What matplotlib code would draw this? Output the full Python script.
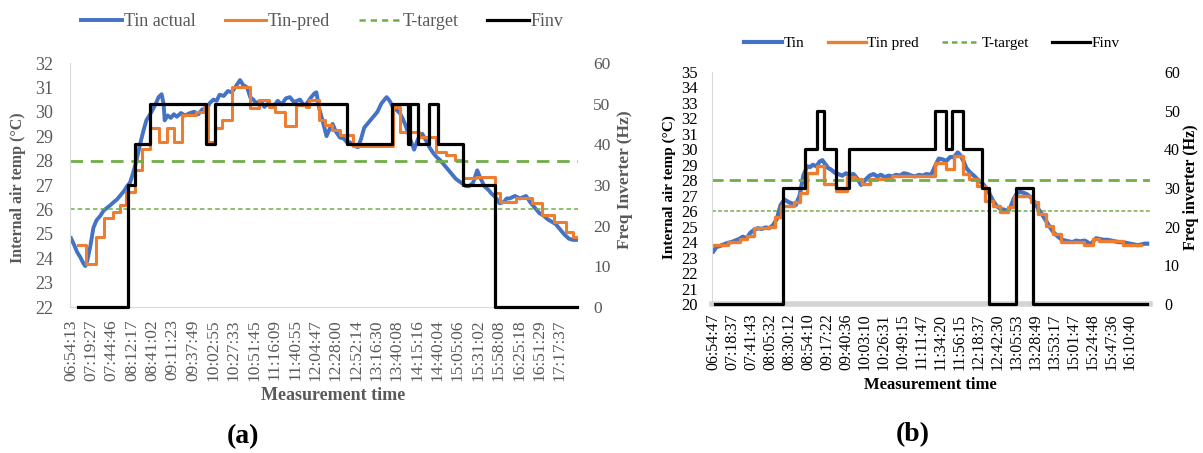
import matplotlib
matplotlib.use('Agg')
import matplotlib.pyplot as plt
from matplotlib.lines import Line2D

plt.rcParams['font.family'] = ['Liberation Serif', 'DejaVu Serif']

# ---------------- (a) data ----------------
a_times = ['06:54:13', '07:19:27', '07:44:46', '08:12:17', '08:41:02', '09:11:23',
           '09:37:49', '10:02:55', '10:27:33', '10:51:45', '11:16:09', '11:40:55',
           '12:04:47', '12:28:00', '12:52:14', '13:16:30', '13:40:08', '14:15:16',
           '14:40:04', '15:05:06', '15:31:02', '15:58:08', '16:25:18', '16:51:29',
           '17:17:37']
a_tick_idx = list(range(0, 481, 20))

a_tin_idx = [0, 3, 6, 9, 12, 14, 16, 19, 22, 25, 29, 32, 35, 38, 42, 45, 48, 52, 55, 58,
             61, 64, 68, 71, 74, 77, 81, 84, 86, 89, 91, 92, 95, 98, 101, 104, 108, 112,
             117, 121, 125, 129, 133, 136, 140, 143, 146, 150, 154, 158, 162, 166, 169,
             173, 176, 179, 182, 186, 190, 194, 199, 203, 207, 211, 215, 219, 225, 228,
             231, 235, 239, 241, 244, 247, 251, 254, 257, 260, 264, 268, 271, 274, 278,
             282, 285, 288, 292, 297, 301, 305, 310, 313, 316, 319, 323, 326, 329, 333,
             337, 341, 345, 349, 352, 356, 359, 363, 368, 373, 378, 383, 388, 391, 395,
             399, 402, 406, 410, 413, 417, 421, 425, 428, 431, 436, 441, 447, 451, 456,
             460, 464, 468, 472, 476, 480, 484, 489, 493, 497]
a_tin = [24.82, 24.55, 24.25, 24.05, 23.8, 23.68, 23.9, 24.5, 25.25, 25.55, 25.75, 25.95,
         26.05, 26.15, 26.3, 26.4, 26.55, 26.75, 26.95, 27.1, 27.5, 27.95, 28.7, 29.2,
         29.65, 29.85, 30.15, 30.4, 30.6, 30.72, 30.3, 29.65, 29.85, 29.75, 29.9, 29.8,
         29.95, 29.85, 29.95, 30.0, 29.9, 30.1, 30.05, 30.35, 30.5, 30.45, 30.7, 30.65,
         30.85, 30.8, 31.05, 31.3, 31.1, 31.0, 30.6, 30.5, 30.35, 30.45, 30.2, 30.35,
         30.2, 30.45, 30.3, 30.55, 30.6, 30.4, 30.5, 30.3, 30.3, 30.55, 30.75, 30.8,
         30.1, 29.65, 29.0, 29.3, 29.5, 29.2, 28.95, 28.9, 28.75, 28.75, 28.6, 28.55,
         28.9, 29.35, 29.55, 29.8, 30.0, 30.35, 30.6, 30.45, 30.2, 30.1, 29.95, 29.7,
         29.4, 28.9, 28.45, 28.9, 29.1, 28.8, 28.55, 28.3, 28.15, 28.0, 27.75, 27.5,
         27.25, 27.1, 26.95, 26.95, 27.1, 27.6, 27.3, 26.95, 26.8, 26.65, 26.5, 26.25,
         26.3, 26.45, 26.45, 26.55, 26.45, 26.55, 26.3, 26.05, 25.85, 25.75, 25.6, 25.5,
         25.4, 25.2, 25.0, 24.8, 24.75, 24.75]

a_pred_idx = [7, 15, 25, 32, 41, 48, 54, 63, 70, 78, 86, 94, 101, 109, 123, 131, 135,
              141, 148, 158, 176, 185, 194, 200, 210, 221, 231, 234, 244, 249, 256, 264,
              277, 316, 323, 342, 359, 368, 377, 385, 398, 416, 421, 437, 453, 463, 474,
              486, 493, 497]
a_pred = [24.54, 23.76, 24.88, 25.63, 25.9, 26.18, 26.73, 27.61, 28.46, 29.32, 28.77,
          29.32, 28.77, 29.87, 29.98, 30.2, 28.77, 29.32, 29.66, 31.0, 30.14, 30.48, 30.21,
          29.98, 29.4, 30.28, 30.21, 30.48, 29.66, 29.46, 29.25, 29.05, 28.6, 30.21, 29.19,
          28.98, 28.36, 28.22, 28.02, 27.27, 27.34, 26.66, 26.32, 26.45, 26.25, 25.77,
          25.48, 25.07, 24.87, 24.87]

a_finv_idx = [7, 56, 63, 78, 133, 141, 271, 315, 331, 333, 341, 352, 360, 385, 416, 497]
a_finv = [0, 30, 40, 50, 40, 50, 40, 50, 40, 50, 40, 50, 40, 30, 0, 0]

a_targets = [28, 26]

# ---------------- (b) data ----------------
b_times = ['06:54:47', '07:18:37', '07:41:43', '08:05:32', '08:30:12', '08:54:10',
           '09:17:22', '09:40:36', '10:03:10', '10:26:31', '10:49:15', '11:11:47',
           '11:34:20', '11:56:15', '12:18:37', '12:42:30', '13:05:53', '13:28:49',
           '13:53:17', '15:01:47', '15:24:48', '15:47:36', '16:10:40']
b_tick_idx = list(range(0, 441, 20))

b_tin_idx = [0, 3, 7, 11, 15, 19, 23, 27, 31, 35, 39, 43, 47, 51, 55, 59, 63, 67, 71, 75,
             79, 83, 87, 91, 95, 99, 102, 105, 109, 112, 115, 118, 121, 124, 128, 132,
             136, 140, 144, 148, 152, 156, 160, 165, 169, 173, 177, 181, 185, 189, 193,
             197, 201, 205, 209, 213, 217, 221, 225, 230, 234, 238, 242, 246, 250, 254,
             258, 261, 264, 267, 271, 275, 279, 283, 287, 291, 295, 299, 303, 307, 311,
             314, 317, 321, 324, 327, 331, 335, 339, 343, 347, 351, 355, 359, 363, 367,
             371, 375, 379, 383, 387, 392, 395, 398, 401, 404, 408, 412, 416, 420, 424,
             428, 432, 436, 440, 444, 448, 452, 455, 458]
b_tin = [23.4, 23.68, 23.75, 23.85, 23.95, 24.0, 24.1, 24.2, 24.35, 24.25, 24.6, 24.8,
         24.9, 24.85, 24.95, 24.9, 25.1, 25.5, 26.4, 26.75, 26.6, 26.5, 26.4, 27.0, 28.3,
         28.9, 28.85, 29.0, 28.9, 29.2, 29.3, 29.05, 28.8, 28.7, 28.5, 28.4, 28.3, 28.45,
         28.35, 28.4, 28.1, 27.7, 28.0, 28.3, 28.4, 28.25, 28.35, 28.2, 28.3, 28.25, 28.35,
         28.3, 28.45, 28.4, 28.3, 28.25, 28.35, 28.3, 28.4, 28.35, 28.9, 29.4, 29.35,
         29.25, 29.5, 29.5, 29.8, 29.6, 29.25, 28.8, 28.5, 28.3, 28.05, 27.85, 27.6, 27.2,
         26.7, 26.35, 26.15, 26.1, 26.0, 26.3, 26.8, 27.2, 27.25, 27.2, 27.1, 26.9, 26.6,
         26.15, 25.8, 25.4, 25.0, 24.65, 24.4, 24.2, 24.1, 24.05, 24.0, 24.1, 24.05, 24.1,
         24.0, 23.85, 24.05, 24.25, 24.2, 24.15, 24.15, 24.1, 24.05, 24.0, 24.0, 23.95,
         23.9, 23.85, 23.8, 23.85, 23.9, 23.9]

b_pred_idx = [0, 15, 28, 35, 43, 59, 65, 71, 85, 91, 99, 109, 117, 129, 141, 149, 157,
              165, 189, 234, 246, 254, 264, 270, 278, 287, 295, 303, 311, 317, 335, 343,
              351, 359, 367, 391, 401, 407, 432, 452]
b_pred = [23.8, 24.0, 24.2, 24.4, 24.9, 25.0, 25.6, 26.35, 26.6, 27.2, 28.5, 28.9, 27.75,
          27.33, 28.2, 28.07, 27.75, 28.07, 28.29, 29.14, 28.7, 29.57, 28.4, 28.07, 27.64,
          26.68, 26.36, 25.93, 26.25, 27.0, 26.57, 25.82, 25.07, 24.54, 24.0, 23.8, 24.2,
          24.1, 23.8, 23.8]

b_finv_idx = [2, 73, 97, 109, 117, 129, 143, 234, 246, 252, 264, 284, 291, 319, 337, 458]
b_finv = [0, 30, 40, 50, 40, 30, 40, 50, 40, 50, 40, 30, 0, 30, 0, 0]

b_targets = [28, 26]

BLUE = '#4472C4'
ORANGE = '#ED7D31'
GREEN = '#70AD47'
GRAY = '#595959'
W, H = 1203, 453

fig = plt.figure(figsize=(W / 100, H / 100), dpi=100)

# ================= chart (a) =================
axA = fig.add_axes([70 / W, 1 - 307 / H, 508 / W, 244 / H])
axA.plot(a_tin_idx, a_tin, color=BLUE, lw=2.8, label='Tin actual', solid_joinstyle='round')
axA.plot(a_pred_idx, a_pred, color=ORANGE, lw=2.2, drawstyle='steps-post', label='Tin-pred')
axA.axhline(a_targets[0], color=GREEN, lw=2.0, dashes=(4.5, 2.8), label='T-target')
axA.axhline(a_targets[1], color=GREEN, lw=1.1, dashes=(3, 2))
axA.set_xlim(-1, 498)
axA.set_ylim(22, 32)
axA.set_yticks(range(22, 33))
axA.set_xticks(a_tick_idx)
axA.set_xticklabels(a_times, rotation=90)
axA.tick_params(axis='x', length=0, pad=9, labelsize=12.5, labelcolor=GRAY)
axA.tick_params(axis='y', length=0, pad=12, labelsize=13, labelcolor=GRAY)
for s in ['top', 'right']:
    axA.spines[s].set_visible(False)
axA.spines['left'].set_color('#d9d9d9')
axA.spines['bottom'].set_color('#d9d9d9')

axA2 = axA.twinx()
axA2.plot(a_finv_idx, a_finv, color='black', lw=2.3, drawstyle='steps-post',
          label='Finv', clip_on=False)
axA2.set_ylim(0, 60)
axA2.set_yticks(range(0, 61, 10))
axA2.tick_params(axis='y', length=0, pad=11, labelsize=12.5, labelcolor=GRAY)
for s in axA2.spines.values():
    s.set_visible(False)

hA = [Line2D([], [], color=BLUE, lw=2.8), Line2D([], [], color=ORANGE, lw=2.2),
      Line2D([], [], color=GREEN, lw=1.8, dashes=(2.5, 2)), Line2D([], [], color='black', lw=2.3)]
legA = fig.legend(hA, ['Tin actual', 'Tin-pred', 'T-target', 'Finv'], loc='center',
                  bbox_to_anchor=(322 / W, 1 - 22 / H), ncol=4, frameon=False,
                  fontsize=13, handlelength=2.3, handletextpad=0.1, columnspacing=1.6)
for t in legA.get_texts():
    t.set_color(GRAY)

fig.text(18 / W, 1 - 188 / H, 'Internal air temp (°C)', rotation=90, ha='center',
         va='center', fontsize=11.5, fontweight='bold', color=GRAY)
fig.text(625 / W, 1 - 180 / H, 'Freq Inverter (Hz)', rotation=90, ha='center',
         va='center', fontsize=12.5, fontweight='bold', color=GRAY)
fig.text(333 / W, 1 - 395 / H, 'Measurement time', ha='center', va='center',
         fontsize=13, fontweight='bold', color=GRAY)
fig.text(243 / W, 1 - 437 / H, '(a)', ha='center', va='center', fontsize=20,
         fontweight='bold', color='black')

# ================= chart (b) =================
axB = fig.add_axes([711.5 / W, 1 - 304 / H, 438.5 / W, 232 / H])
axB.plot(b_tin_idx, b_tin, color=BLUE, lw=3.0, label='Tin', solid_joinstyle='round')
axB.plot(b_pred_idx, b_pred, color=ORANGE, lw=2.4, drawstyle='steps-post', label='Tin pred')
axB.axhline(b_targets[0], color=GREEN, lw=2.0, dashes=(4, 2.2), label='T-target')
axB.axhline(b_targets[1], color=GREEN, lw=1.1, dashes=(2.5, 1.5))
axB.set_xlim(-2, 461)
axB.set_ylim(20, 35)
axB.set_yticks(range(20, 36))
axB.set_xticks(b_tick_idx)
axB.set_xticklabels(b_times, rotation=90)
axB.tick_params(axis='x', length=0, pad=7, labelsize=11.5, labelcolor='black')
axB.tick_params(axis='y', length=0, pad=10, labelsize=12, labelcolor='black')
for s in ['top', 'right']:
    axB.spines[s].set_visible(False)
axB.spines['left'].set_color('#d9d9d9')
axB.spines['bottom'].set_color('#d4d4d4')
axB.spines['bottom'].set_linewidth(4)

axB2 = axB.twinx()
axB2.plot(b_finv_idx, b_finv, color='black', lw=2.3, drawstyle='steps-post',
          label='Finv', clip_on=False)
axB2.set_ylim(0, 60)
axB2.set_yticks(range(0, 61, 10))
axB2.tick_params(axis='y', length=0, pad=10, labelsize=11.5, labelcolor='black')
for s in axB2.spines.values():
    s.set_visible(False)

hB = [Line2D([], [], color=BLUE, lw=3.0), Line2D([], [], color=ORANGE, lw=2.4),
      Line2D([], [], color=GREEN, lw=1.8, dashes=(2.2, 1.6)), Line2D([], [], color='black', lw=2.3)]
fig.legend(hB, ['Tin', 'Tin pred', 'T-target', 'Finv'], loc='center',
           bbox_to_anchor=(932 / W, 1 - 43 / H), ncol=4, frameon=False,
           fontsize=11, handlelength=2.5, handletextpad=0.1, columnspacing=1.5)

fig.text(669 / W, 1 - 187 / H, 'Internal air temp (°C)', rotation=90, ha='center',
         va='center', fontsize=11, fontweight='bold', color='black')
fig.text(1191 / W, 1 - 187 / H, 'Freq inverter (Hz)', rotation=90, ha='center',
         va='center', fontsize=11.5, fontweight='bold', color='black')
fig.text(930 / W, 1 - 385 / H, 'Measurement time', ha='center', va='center',
         fontsize=12, fontweight='bold', color='black')
fig.text(913 / W, 1 - 435 / H, '(b)', ha='center', va='center', fontsize=20,
         fontweight='bold', color='black')

fig.savefig('out.png', dpi=100)
